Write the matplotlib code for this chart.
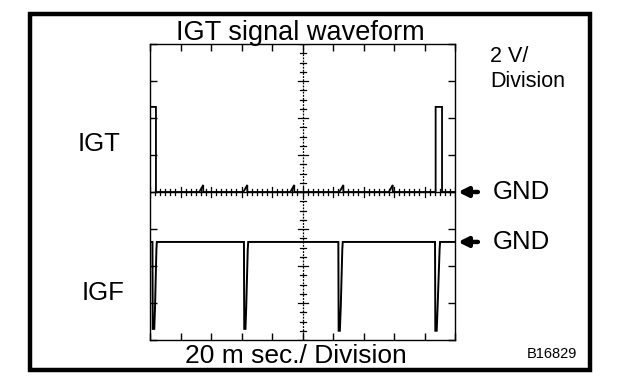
import numpy as np
import matplotlib
matplotlib.use("Agg")
import matplotlib.pyplot as plt
from matplotlib.patches import Rectangle

plt.rcParams['font.family'] = ['Liberation Sans', 'DejaVu Sans']

# ---- data (time in ms, volts) ----
igt_t = [0, 0, 3.9, 3.9, 32.3, 34.9, 34.9, 61.2, 63.8, 63.8, 92.0, 94.6, 94.6,
         124.2, 126.8, 126.8, 156.6, 159.2, 159.2, 187.3, 187.3, 191.5, 191.5, 200]
igt_v = [0, 4.6, 4.6, 0, 0, 0.38, 0, 0, 0.38, 0, 0, 0.38, 0,
         0, 0.38, 0, 0, 0.38, 0, 0, 4.6, 4.6, 0, 0]

igf_t = [0, 1.6, 1.8, 2.8, 3.3, 4.2, 4.5, 61.6, 61.8, 62.6, 63.1, 64.1, 64.4,
         123.5, 123.7, 124.5, 125.1, 126.1, 126.4, 186.9, 187.1, 188.0, 188.6, 189.9, 190.2, 200]
igf_v = [0, 0, -4.7, -4.7, -3.5, -0.4, 0, 0, -4.7, -4.7, -3.5, -0.4, 0,
         0, -4.8, -4.8, -3.5, -0.4, 0, 0, -4.8, -4.8, -3.5, -0.4, 0, 0]

title = "IGT signal waveform"
xlabel = "20 m sec./ Division"
vdiv = ["2 V/", "Division"]
ch_labels = ["IGT", "IGF"]
gnd_label = "GND"
code = "B16829"

# ---- layout ----
W, H = 624, 392
fig = plt.figure(figsize=(W / 100, H / 100), dpi=100)
def fx(px): return px / W
def fy(py): return 1 - py / H

ax = fig.add_axes([fx(150), fy(340), 305 / W, 296 / H])
XDIV, YDIV = 20, 2
ax.set_xlim(0, 200)
ax.set_ylim(-8, 8)
IGF_OFFSET = -2.7  # channel 2 position (V)

ax.plot(igt_t, igt_v, color='black', lw=1.3, solid_joinstyle='miter', zorder=3)
ax.plot(igf_t, np.array(igf_v) + IGF_OFFSET, color='black', lw=1.4,
        solid_joinstyle='miter', zorder=3)

# frame
for s in ax.spines.values():
    s.set_linewidth(1.0)
ax.spines['right'].set_linestyle((0, (2, 1)))
ax.spines['bottom'].set_linestyle((0, (2, 1)))
ax.set_xticks(np.arange(0, 201, XDIV))
ax.set_yticks(np.arange(-8, 9, YDIV))
ax.tick_params(direction='in', length=5, width=1, top=True, right=True,
               labelleft=False, labelbottom=False)

# center graticule
px_x = 200 / 305
px_y = 16 / 296
ax.axvline(100, color='black', lw=0.9, ls=(0, (1.5, 1)), zorder=2)
ax.axhline(0, color='black', lw=1.0, zorder=2)
for yv in np.arange(-8, 8.01, 0.5):
    half = 5 if abs(yv % 2) < 1e-9 else 3
    ax.plot([100 - half * px_x, 100 + half * px_x], [yv, yv], color='black', lw=0.9, zorder=2)
for xv in np.arange(0, 200.01, 20 / 6):
    half = 5 if abs((xv + 1e-6) % 20) < 1e-3 else 3
    ax.plot([xv, xv], [-half * px_y, half * px_y], color='black', lw=0.9, zorder=2)

# GND arrows and labels
tr = ax.get_yaxis_transform()
for yv in [0, IGF_OFFSET]:
    ax.annotate("", xy=(1.01, yv), xycoords=tr, xytext=(1.075, yv), textcoords=tr,
                arrowprops=dict(arrowstyle='-|>', lw=3.2, color='black', mutation_scale=14,
                                shrinkA=0, shrinkB=0))
    ax.text(1.125, yv, gnd_label, transform=tr, ha='left', va='center', fontsize=18.5)

# texts
fig.text(fx(300), fy(40), title, ha='center', va='baseline', fontsize=19.5)
fig.text(fx(296), fy(363), xlabel, ha='center', va='baseline', fontsize=19)
fig.text(fx(78), fy(151), ch_labels[0], ha='left', va='baseline', fontsize=18.5)
fig.text(fx(82), fy(300), ch_labels[1], ha='left', va='baseline', fontsize=18.5)
fig.text(fx(490), fy(62), vdiv[0], ha='left', va='baseline', fontsize=15.5)
fig.text(fx(490), fy(87), vdiv[1], ha='left', va='baseline', fontsize=15.5)
fig.text(fx(527), fy(358), code, ha='left', va='baseline', fontsize=10.5)

# outer frame
fig.patches.append(Rectangle((fx(30), fy(370)), (590 - 30) / W, (370 - 14) / H,
                             transform=fig.transFigure, fill=False, lw=3.2,
                             edgecolor='black'))

fig.savefig("out.png", dpi=100, facecolor='white')
